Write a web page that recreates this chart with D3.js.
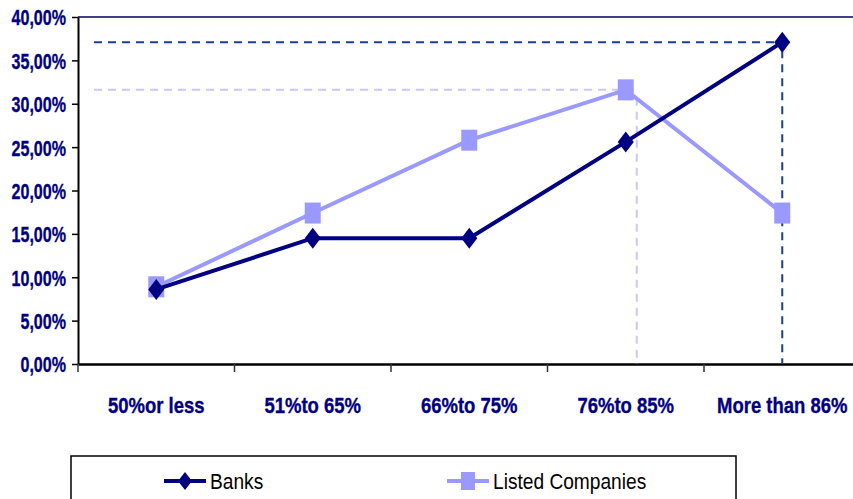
<!DOCTYPE html>
<html>
<head>
<meta charset="utf-8">
<script src="https://cdn.jsdelivr.net/npm/d3@7/dist/d3.min.js"></script>
<style>
  html, body { margin: 0; padding: 0; background: #fff; }
  svg { display: block; }
  .axis text { font-family: "Liberation Sans Narrow", "Arial Narrow", "Liberation Sans", Arial, sans-serif; font-weight: bold; fill: #000080; stroke: #000080; stroke-width: 0.35px; }
  .legend text { font-family: "Liberation Sans Narrow", "Arial Narrow", "Liberation Sans", Arial, sans-serif; fill: #000; }
</style>
</head>
<body>
<svg id="chart" width="853" height="499"></svg>
<script>
// Share of respondents per ownership-concentration bracket
const categories = ["50%or less", "51%to 65%", "66%to 75%", "76%to 85%", "More than 86%"];
const banks = [8.6, 14.5, 14.5, 25.6, 37.1];
const listedCompanies = [8.9, 17.4, 25.8, 31.6, 17.4];
const yTicks = [0, 5, 10, 15, 20, 25, 30, 35, 40];
const seriesNames = ["Banks", "Listed Companies"];

const svg = d3.select("#chart");
const plotLeft = 78, plotTop = 17, plotBottom = 364, plotRight = 860.5;

const x = d3.scaleBand().domain(categories).range([plotLeft, plotRight]);
const cx = c => x(c) + x.bandwidth() / 2;
const y = d3.scaleLinear().domain([0, 40]).range([plotBottom, plotTop]);

const navy = "#000080", lilac = "#9999FF";

// Condense text horizontally (narrow face look)
function condense(sel, factor) {
  sel.each(function () {
    const w = this.getComputedTextLength();
    d3.select(this).attr("textLength", w * factor).attr("lengthAdjust", "spacingAndGlyphs");
  });
}

// Top border of the plot area
svg.append("line").attr("x1", plotLeft).attr("x2", 853).attr("y1", plotTop).attr("y2", plotTop)
  .attr("stroke", "#000060").attr("stroke-width", 1.5);

// Y axis
const yAxis = svg.append("g").attr("class", "axis").attr("transform", `translate(${plotLeft},0)`)
  .call(d3.axisLeft(y).tickValues(yTicks).tickSize(6).tickSizeOuter(0)
    .tickFormat(d => d.toFixed(2).replace(".", ",") + "%"));
yAxis.select(".domain").attr("stroke", "#000").attr("stroke-width", 2);
yAxis.selectAll(".tick line").attr("stroke", "#000").attr("stroke-width", 1.5);
yAxis.selectAll(".tick text").attr("x", -12).attr("dy", "0.36em").style("font-size", "22px")
  .call(condense, 0.73);

// X axis: labels at category centres, tick marks at category boundaries
const xAxis = svg.append("g").attr("class", "axis").attr("transform", `translate(0,${plotBottom})`)
  .call(d3.axisBottom(x).tickSize(0).tickSizeOuter(0));
xAxis.select(".domain").attr("stroke", "#000").attr("stroke-width", 2.5);
xAxis.selectAll(".tick text").attr("y", 49).attr("dy", 0).style("font-size", "22px")
  .call(condense, 0.84);
const bounds = categories.map(c => x(c)).concat([x.range()[1]]);
svg.append("g").selectAll("line").data(bounds).join("line")
  .attr("x1", d => d).attr("x2", d => d).attr("y1", plotBottom).attr("y2", plotBottom + 8)
  .attr("stroke", "#333").attr("stroke-width", 1.5);

// Dashed guides marking each series' peak
function guide(values, color, xOffset) {
  const i = d3.maxIndex(values);
  const vy = y(values[i]);
  const vx = cx(categories[i]) + xOffset;
  const g = svg.append("g").attr("stroke", color).attr("stroke-width", 2)
    .attr("stroke-dasharray", "8,6").attr("fill", "none");
  g.append("line").attr("x1", plotLeft + 16).attr("x2", cx(categories[i]) - 8).attr("y1", vy).attr("y2", vy);
  g.append("line").attr("x1", vx).attr("x2", vx).attr("y1", vy + 8).attr("y2", plotBottom);
}
guide(listedCompanies, "#C8C8FF", 11);
guide(banks, "#1A3D9E", 0);

const line = d3.line().x((d, i) => cx(categories[i])).y(d => y(d));

// Listed companies series
svg.append("path").datum(listedCompanies).attr("d", line)
  .attr("fill", "none").attr("stroke", lilac).attr("stroke-width", 4);
svg.append("g").selectAll("rect").data(listedCompanies).join("rect")
  .attr("x", (d, i) => cx(categories[i]) - 8).attr("y", d => y(d) - 10.5)
  .attr("width", 16).attr("height", 21).attr("fill", lilac);

// Banks series
const diamond = "M0,-10.5L8,0L0,10.5L-8,0Z";
svg.append("path").datum(banks).attr("d", line)
  .attr("fill", "none").attr("stroke", navy).attr("stroke-width", 4);
svg.append("g").selectAll("path").data(banks).join("path")
  .attr("d", diamond)
  .attr("transform", (d, i) => `translate(${cx(categories[i])},${y(d)})`)
  .attr("fill", navy);

// Legend
const legend = svg.append("g").attr("class", "legend");
legend.append("rect").attr("x", 71).attr("y", 456).attr("width", 665).attr("height", 60)
  .attr("fill", "#fff").attr("stroke", "#000").attr("stroke-width", 1.5);
const items = [
  { name: seriesNames[0], color: navy, x0: 164, marker: "diamond" },
  { name: seriesNames[1], color: lilac, x0: 447, marker: "square" }
];
items.forEach(it => {
  const ly = 481;
  legend.append("line").attr("x1", it.x0).attr("x2", it.x0 + 42).attr("y1", ly).attr("y2", ly)
    .attr("stroke", it.color).attr("stroke-width", 4);
  if (it.marker === "diamond") {
    legend.append("path").attr("d", "M0,-9L7,0L0,9L-7,0Z")
      .attr("transform", `translate(${it.x0 + 21},${ly})`).attr("fill", it.color);
  } else {
    legend.append("rect").attr("x", it.x0 + 14).attr("y", ly - 9).attr("width", 14).attr("height", 18)
      .attr("fill", it.color);
  }
  legend.append("text").attr("x", it.x0 + 46).attr("y", ly).attr("dy", "0.35em")
    .style("font-size", "22px").text(it.name).call(condense, 0.87);
});
</script>
</body>
</html>
